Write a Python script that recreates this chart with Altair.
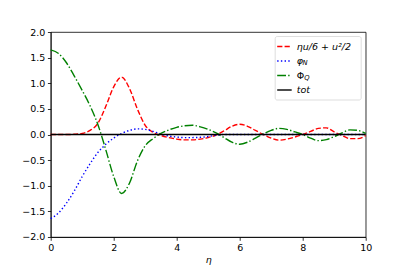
import altair as alt
import pandas as pd

eta = [i * 0.25 for i in range(41)]

red = [0.0, 0.0, 0.0, 0.005, 0.02, 0.08, 0.22, 0.55, 0.93, 1.12, 0.90, 0.50, 0.18, 0.04,
       -0.02, -0.06, -0.09, -0.105, -0.105, -0.09, -0.06, -0.01, 0.07, 0.16, 0.20, 0.16, 0.08,
       0.0, -0.07, -0.11, -0.09, -0.05, 0.0, 0.06, 0.12, 0.13, 0.05, -0.02, -0.08, -0.08, -0.02]

blue = [-1.64, -1.53, -1.34, -1.10, -0.82, -0.57, -0.35, -0.19, -0.07, 0.02, 0.08, 0.11,
        0.10, 0.06, 0.01, -0.03, -0.05, -0.06, -0.06, -0.055, -0.04, -0.015, 0.0, 0.0,
        0.0, 0.0, 0.0, 0.0, 0.0, 0.0, 0.0, 0.0, 0.0, 0.0, 0.0, 0.0, 0.0, 0.0, 0.0, 0.0, 0.0]

green = [1.65, 1.58, 1.40, 1.14, 0.86, 0.56, 0.19, -0.30, -0.82, -1.15, -0.95, -0.52, -0.22,
         -0.08, 0.02, 0.09, 0.14, 0.17, 0.18, 0.15, 0.10, 0.03, -0.06, -0.15, -0.19, -0.15,
         -0.07, 0.01, 0.08, 0.12, 0.10, 0.05, 0.0, -0.07, -0.12, -0.10, -0.04, 0.03, 0.09, 0.08, 0.02]

tot = [0.0] * 41

x_ticks = [0, 2, 4, 6, 8, 10]
y_ticks = [-2.0, -1.5, -1.0, -0.5, 0.0, 0.5, 1.0, 1.5, 2.0]

FONT = "DejaVu Sans"
FS = 9.5

df = pd.DataFrame({"eta": eta, "red": red, "blue": blue, "green": green, "tot": tot})

x_enc = alt.X("eta:Q", scale=alt.Scale(domain=[0, 10], nice=False),
              axis=alt.Axis(values=x_ticks, format="d", title="η", titleFontStyle="italic",
                            titleFontWeight="normal", titlePadding=2))
base = alt.Chart(df)


def series(field, color, dash, width=1.4):
    kw = {}
    if dash:
        kw["strokeDash"] = dash
    return base.mark_line(color=color, strokeWidth=width, interpolate="monotone", **kw).encode(
        x=x_enc,
        y=alt.Y(f"{field}:Q", scale=alt.Scale(domain=[-2, 2], nice=False),
                axis=alt.Axis(values=y_ticks, format=".1f", title=None)),
    )


DASH_RED = [5.2, 2.2]
DASH_BLUE = [1.4, 2.3]
DASH_GREEN = [8.8, 2.2, 1.4, 2.2]

lines = [
    series("red", "red", DASH_RED),
    series("blue", "blue", DASH_BLUE),
    series("green", "green", DASH_GREEN),
    series("tot", "black", None, 1.6),
]

one = alt.Data(values=[{"a": 1}])

box = alt.Chart(one).mark_rect(fill="white", opacity=0.8, stroke="#cccccc", strokeWidth=0.8,
                               cornerRadius=2).encode(
    x=alt.value(224.5), x2=alt.value(310.5), y=alt.value(4.5), y2=alt.value(68))

legend_rows = [
    ("red", DASH_RED, 14.5),
    ("blue", DASH_BLUE, 29),
    ("green", DASH_GREEN, 43.5),
    ("black", None, 58),
]
samples = []
for color, dash, yy in legend_rows:
    kw = {"strokeDash": dash} if dash else {}
    samples.append(alt.Chart(one).mark_rule(color=color, strokeWidth=1.4, **kw).encode(
        x=alt.value(226.5), x2=alt.value(241), y=alt.value(yy)))


def txt(s, x, y, size=FS, style="normal"):
    return alt.Chart(one).mark_text(text=s, font=FONT, fontSize=size, fontStyle=style,
                                    align="left", baseline="middle", color="black").encode(
        x=alt.value(x), y=alt.value(y))


labels = [
    txt("ηu/6 + u²/2", 246, 14.5, FS, "italic"),
    txt("φ", 246, 29, FS, "italic"),
    txt("N", 251.8, 31, 6.8, "italic"),
    txt("Φ", 246, 43.5, FS),
    txt("Q", 253.5, 45.5, 6.8, "italic"),
    txt("tot", 246, 58, FS, "italic"),
]

chart = alt.layer(*lines, box, *samples, *labels).properties(
    width=315, height=205,
    autosize=alt.AutoSizeParams(type="none"),
    padding={"left": 42.7, "top": 24, "right": 10, "bottom": 30},
).configure_view(stroke="black", strokeWidth=0.8).configure_axis(
    grid=False, domainColor="black", domainWidth=0.8, tickColor="black", tickWidth=0.8,
    tickSize=3.3, labelPadding=2.5, labelFont=FONT, labelFontSize=FS, labelColor="black",
    titleFont=FONT, titleFontSize=FS, titleColor="black", labelFlush=False,
)

chart.save("out.html", embed_options={"renderer": "svg", "actions": False})
